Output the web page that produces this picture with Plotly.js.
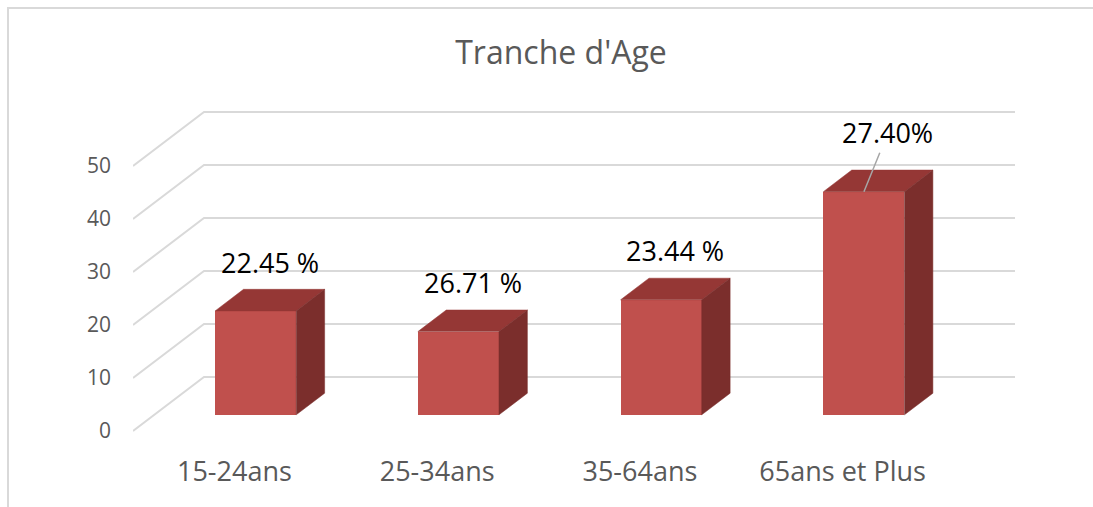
<!DOCTYPE html>
<html>
<head>
<meta charset="utf-8">
<script src="https://cdn.plot.ly/plotly-3.0.1.min.js"></script>
<style>
  html, body { margin: 0; padding: 0; background: #ffffff; overflow: hidden; }
  #wrap { position: relative; width: 1093px; height: 507px; overflow: hidden; }
  #chart { position: absolute; left: 0; top: 0; width: 1093px; height: 507px; }
</style>
</head>
<body>
<div id="wrap"><div id="chart"></div></div>
<script>
// ---- Data ----
const categories = ['15-24ans', '25-34ans', '35-64ans', '65ans et Plus'];
const values = [19.6, 15.7, 21.7, 42.1];
const valueLabels = ['22.45 %', '26.71 %', '23.44 %', '27.40%'];
const yTickValues = [0, 10, 20, 30, 40, 50];
const chartTitle = "Tranche d'Age";

// ---- Layout / projection settings ----
const W = 1093, H = 507;
const margin = { l: 133, r: 73, t: 100, b: 57 };
const plotW = W - margin.l - margin.r;
const plotH = H - margin.t - margin.b;
const pxPerCat = 202.75;      // px per category on the front plane
const pxPerUnit = 5.3;        // px per value unit
const zeroPx = 431;           // pixel row of value 0 on the front plane
const xRange = [-0.5, -0.5 + plotW / pxPerCat];
const yRange = [-((H - margin.b) - zeroPx) / pxPerUnit, (zeroPx - margin.t) / pxPerUnit];
const DX = 71 / pxPerCat;     // full depth offset (x units)
const DY = 54 / pxPerUnit;    // full depth offset (y units)
const barW = 0.4, d0 = 0.3, d1 = 0.7;

const font = "'Open Sans', 'Noto Sans', sans-serif";
const front = '#C0504D', topC = '#953735', sideC = '#7B2E2C';
const gridC = '#D9D9D9';

const traces = [];

// gridlines: side wall diagonals + back wall lines
const gx = [], gy = [];
yTickValues.forEach(v => {
  gx.push(xRange[0], xRange[0] + DX, categories.length - 0.5 + DX, null);
  gy.push(v, v + DY, v + DY, null);
});
traces.push({
  type: 'scatter', mode: 'lines', x: gx, y: gy, zorder: 0,
  line: { color: gridC, width: 2 }, hoverinfo: 'skip', showlegend: false
});

// bar front faces
const idx = categories.map((c, i) => i);
traces.push({
  type: 'bar', zorder: 1,
  x: idx.map(i => i + d0 * DX),
  y: values,
  base: values.map(() => d0 * DY),
  width: barW,
  marker: { color: front, line: { width: 0 } },
  hovertext: categories, hoverinfo: 'text+y', showlegend: false
});

// top and side faces
const ddx = (d1 - d0) * DX, ddy = (d1 - d0) * DY;
values.forEach((v, i) => {
  const xl = i + d0 * DX - barW / 2, xr = xl + barW, b = d0 * DY;
  traces.push({
    type: 'scatter', mode: 'lines', fill: 'toself', zorder: 1,
    x: [xl, xr, xr + ddx, xl + ddx, xl],
    y: [v + b, v + b, v + b + ddy, v + b + ddy, v + b],
    fillcolor: topC, line: { width: 0.5, color: topC },
    hoverinfo: 'skip', showlegend: false
  });
  traces.push({
    type: 'scatter', mode: 'lines', fill: 'toself', zorder: 1,
    x: [xr, xr, xr + ddx, xr + ddx, xr],
    y: [b, v + b, v + b + ddy, b + ddy, b],
    fillcolor: sideC, line: { width: 0.5, color: sideC },
    hoverinfo: 'skip', showlegend: false
  });
});

// data labels
const annotations = values.map((v, i) => {
  const last = i === values.length - 1;
  if (!last) {
    return {
      x: i + 0.5 * DX, y: v + 0.5 * DY, xref: 'x', yref: 'y',
      text: valueLabels[i], showarrow: false, yshift: 38,
      xanchor: 'center', yanchor: 'middle',
      font: { family: font, size: 27, color: '#000000' }
    };
  }
  return {
    x: i + d0 * DX, y: v + d0 * DY, xref: 'x', yref: 'y',
    text: valueLabels[i], showarrow: true, arrowhead: 0,
    arrowwidth: 1.5, arrowcolor: '#A6A6A6', ax: 24, ay: -59,
    standoff: 0, startstandoff: 0,
    font: { family: font, size: 27, color: '#000000' }
  };
});

// chart frame (light grey border; only top + left edges fall inside the picture)
const pxToPaperX = px => (px - margin.l) / plotW;
const pxToPaperY = py => (H - margin.b - py) / plotH;
const shapes = [
  { type: 'rect', xref: 'paper', yref: 'paper',
    x0: pxToPaperX(8), x1: pxToPaperX(W + 20), y0: pxToPaperY(8), y1: pxToPaperY(H + 20),
    line: { color: gridC, width: 2 }, fillcolor: 'rgba(0,0,0,0)', layer: 'below' }
];

const layout = {
  width: W, height: H, margin: margin,
  paper_bgcolor: '#ffffff', plot_bgcolor: 'rgba(0,0,0,0)',
  showlegend: false,
  title: {
    text: chartTitle, x: 561 / W, xanchor: 'center', xref: 'container',
    y: 1 - 53 / H, yanchor: 'middle', yref: 'container',
    font: { family: font, size: 32, color: '#595959' }
  },
  xaxis: {
    range: xRange, tickmode: 'array', tickvals: idx, ticktext: categories,
    showgrid: false, zeroline: false, showline: false, ticks: '',
    tickfont: { family: font, size: 27, color: '#595959' },
    ticklabelstandoff: 3, fixedrange: true
  },
  yaxis: {
    range: yRange, tickmode: 'array', tickvals: yTickValues,
    showgrid: false, zeroline: false, showline: false, ticks: '',
    tickfont: { family: font, size: 21, color: '#595959' },
    ticklabelstandoff: 21, fixedrange: true
  },
  annotations: annotations,
  shapes: shapes,
  bargap: 0
};

Plotly.newPlot('chart', traces, layout, { displayModeBar: false, staticPlot: true });
</script>
</body>
</html>
